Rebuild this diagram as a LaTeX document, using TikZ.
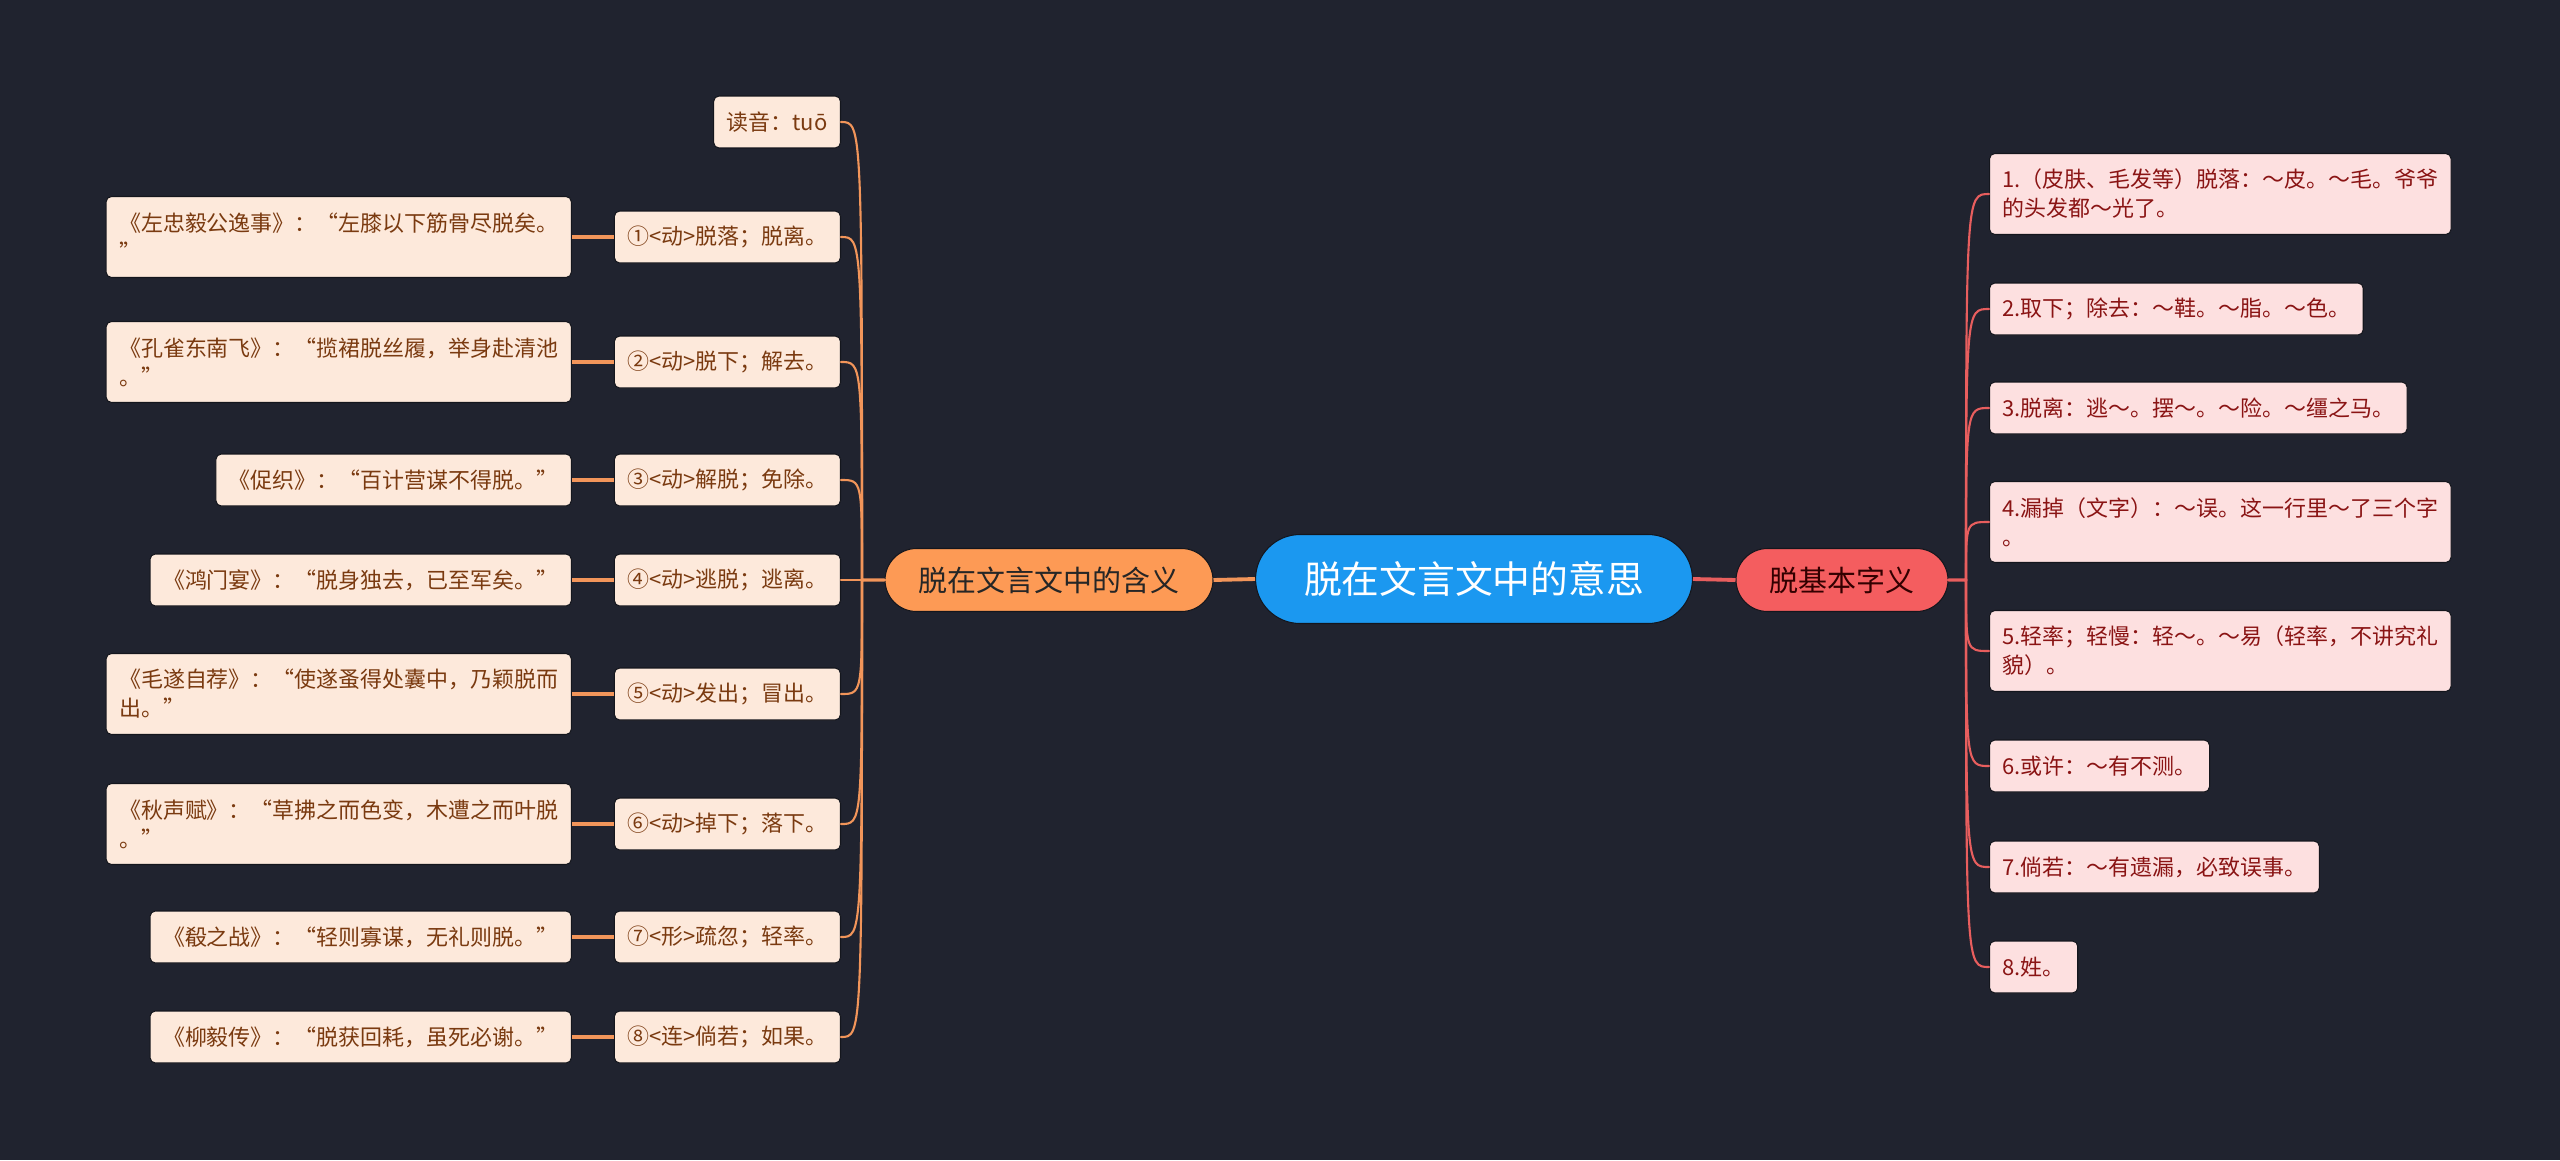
\documentclass[tikz,border=0pt]{standalone}
\usepackage{fontspec}
\setmainfont{Noto Sans CJK SC}
\usepackage{xcolor}
\usepackage{tikz}
\usetikzlibrary{positioning}
\definecolor{fundo}{HTML}{20232F}
\definecolor{contorno}{HTML}{14161D}
\definecolor{azul}{HTML}{1B98F0}
\definecolor{laranja}{HTML}{FD9A55}
\definecolor{vermelho}{HTML}{F45D5F}
\definecolor{pessego}{HTML}{FDE9DB}
\definecolor{rosa}{HTML}{FDE0E0}
\definecolor{marrom}{HTML}{7A3A10}
\definecolor{vinho}{HTML}{8A1414}
\definecolor{linhaL}{HTML}{F2955A}
\definecolor{linhaR}{HTML}{E85E5E}
\tikzset{
    caixa/.style={
        rectangle,
        draw=contorno,
        line width=0.6pt,
        rounded corners=3pt,
        align=left,
        inner xsep=0.26cm,
        inner ysep=0.26cm,
        minimum height=1.04cm,
        font=\fontsize{12.5}{16.5}\selectfont
    },
    sentido/.style={caixa, fill=pessego, text=marrom},
    citacao/.style={sentido},
    acepcao/.style={caixa, fill=rosa, text=vinho},
    dois/.style={minimum height=1.62cm},
    pilula/.style={
        rectangle,
        draw=contorno,
        line width=0.6pt,
        align=center
    },
    raiz/.style={pilula, fill=azul, text=white,
        minimum width=8.74cm, minimum height=1.78cm, rounded corners=0.89cm,
        font=\fontsize{21.5}{24}\selectfont},
    ramo/.style={pilula, minimum height=1.26cm, rounded corners=0.63cm,
        font=\fontsize{16.5}{20}\selectfont},
    ramoL/.style={ramo, fill=laranja, text=black!85, minimum width=6.56cm},
    ramoR/.style={ramo, fill=vermelho, text=black!80!red, minimum width=4.24cm},
    tronco/.style={line width=2.2pt},
    galho/.style={line width=1.2pt, line cap=round},
    elo/.style={line width=2.4pt, linhaL}
}

\begin{document}
\begin{tikzpicture}[x=0.02cm, y=-0.02cm]
    \fill[fundo] (0,0) rectangle (2560,1160);
    \useasboundingbox (0,0) rectangle (2560,1160);

    % centro e ramos principais
    \node[raiz] (centro) at (1474,579) {脱在文言文中的意思};
    \node[ramoL] (esq) at (1049,580) {脱在文言文中的含义};
    \node[ramoR] (dir) at (1842,580) {脱基本字义};
    \coordinate (eixoL) at (862,580);
    \coordinate (eixoR) at (1966,580);

    \draw[tronco, linhaL] (centro.west) -- (esq.east);
    \draw[tronco, linhaR] (centro.east) -- (dir.west);

    % significados no texto classico
    \node[sentido, anchor=east] (leitura) at (841,122) {读音：tuō};
    \node[sentido, anchor=east] (s1) at (841,237) {①<动>脱落；脱离。};
    \node[sentido, anchor=east] (s2) at (841,362) {②<动>脱下；解去。};
    \node[sentido, anchor=east] (s3) at (841,480) {③<动>解脱；免除。};
    \node[sentido, anchor=east] (s4) at (841,580) {④<动>逃脱；逃离。};
    \node[sentido, anchor=east] (s5) at (841,694) {⑤<动>发出；冒出。};
    \node[sentido, anchor=east] (s6) at (841,824) {⑥<动>掉下；落下。};
    \node[sentido, anchor=east] (s7) at (841,937) {⑦<形>疏忽；轻率。};
    \node[sentido, anchor=east] (s8) at (841,1037) {⑧<连>倘若；如果。};

    % exemplos
    \node[citacao, dois, left=0.84cm of s1] (c1) {《左忠毅公逸事》：“左膝以下筋骨尽脱矣。\\”};
    \node[citacao, dois, left=0.84cm of s2] (c2) {《孔雀东南飞》：“揽裙脱丝履，举身赴清池\\。”};
    \node[citacao, left=0.84cm of s3] (c3) {《促织》：“百计营谋不得脱。”};
    \node[citacao, left=0.84cm of s4] (c4) {《鸿门宴》：“脱身独去，已至军矣。”};
    \node[citacao, dois, left=0.84cm of s5] (c5) {《毛遂自荐》：“使遂蚤得处囊中，乃颖脱而\\出。”};
    \node[citacao, dois, left=0.84cm of s6] (c6) {《秋声赋》：“草拂之而色变，木遭之而叶脱\\。”};
    \node[citacao, left=0.84cm of s7] (c7) {《殽之战》：“轻则寡谋，无礼则脱。”};
    \node[citacao, left=0.84cm of s8] (c8) {《柳毅传》：“脱获回耗，虽死必谢。”};

    % acepcoes basicas
    \node[acepcao, dois, anchor=west] (a1) at (1989,194) {1.（皮肤、毛发等）脱落：～皮。～毛。爷爷\\的头发都～光了。};
    \node[acepcao, anchor=west] (a2) at (1989,309) {2.取下；除去：～鞋。～脂。～色。};
    \node[acepcao, anchor=west] (a3) at (1989,408) {3.脱离：逃～。摆～。～险。～缰之马。};
    \node[acepcao, dois, anchor=west] (a4) at (1989,522) {4.漏掉（文字）：～误。这一行里～了三个字\\。};
    \node[acepcao, dois, anchor=west] (a5) at (1989,651) {5.轻率；轻慢：轻～。～易（轻率，不讲究礼\\貌）。};
    \node[acepcao, anchor=west] (a6) at (1989,766) {6.或许：～有不测。};
    \node[acepcao, anchor=west] (a7) at (1989,867) {7.倘若：～有遗漏，必致误事。};
    \node[acepcao, anchor=west] (a8) at (1989,967) {8.姓。};

    % ligacoes da esquerda
    \draw[galho, linhaL] (esq.west) -- (eixoL) .. controls (eixoL |- leitura.east) .. (leitura.east);
    \draw[galho, linhaL] (esq.west) -- (eixoL) .. controls (eixoL |- s1.east) .. (s1.east);
    \draw[galho, linhaL] (esq.west) -- (eixoL) .. controls (eixoL |- s2.east) .. (s2.east);
    \draw[galho, linhaL] (esq.west) -- (eixoL) .. controls (eixoL |- s3.east) .. (s3.east);
    \draw[galho, linhaL] (esq.west) -- (s4.east);
    \draw[galho, linhaL] (esq.west) -- (eixoL) .. controls (eixoL |- s5.east) .. (s5.east);
    \draw[galho, linhaL] (esq.west) -- (eixoL) .. controls (eixoL |- s6.east) .. (s6.east);
    \draw[galho, linhaL] (esq.west) -- (eixoL) .. controls (eixoL |- s7.east) .. (s7.east);
    \draw[galho, linhaL] (esq.west) -- (eixoL) .. controls (eixoL |- s8.east) .. (s8.east);

    \draw[elo] (c1) -- (s1);
    \draw[elo] (c2) -- (s2);
    \draw[elo] (c3) -- (s3);
    \draw[elo] (c4) -- (s4);
    \draw[elo] (c5) -- (s5);
    \draw[elo] (c6) -- (s6);
    \draw[elo] (c7) -- (s7);
    \draw[elo] (c8) -- (s8);

    % ligacoes da direita
    \draw[galho, linhaR] (dir.east) -- (eixoR) .. controls (eixoR |- a1.west) .. (a1.west);
    \draw[galho, linhaR] (dir.east) -- (eixoR) .. controls (eixoR |- a2.west) .. (a2.west);
    \draw[galho, linhaR] (dir.east) -- (eixoR) .. controls (eixoR |- a3.west) .. (a3.west);
    \draw[galho, linhaR] (dir.east) -- (eixoR) .. controls (eixoR |- a4.west) .. (a4.west);
    \draw[galho, linhaR] (dir.east) -- (eixoR) .. controls (eixoR |- a5.west) .. (a5.west);
    \draw[galho, linhaR] (dir.east) -- (eixoR) .. controls (eixoR |- a6.west) .. (a6.west);
    \draw[galho, linhaR] (dir.east) -- (eixoR) .. controls (eixoR |- a7.west) .. (a7.west);
    \draw[galho, linhaR] (dir.east) -- (eixoR) .. controls (eixoR |- a8.west) .. (a8.west);
\end{tikzpicture}
\end{document}
